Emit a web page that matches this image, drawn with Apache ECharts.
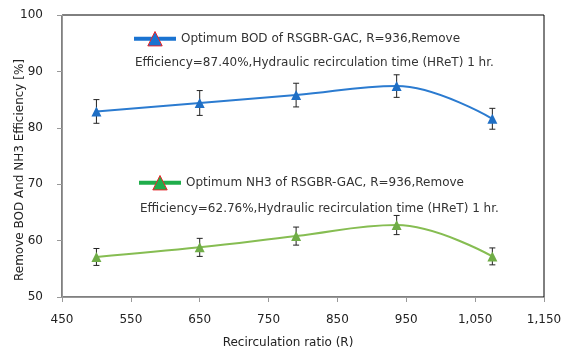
<!DOCTYPE html>
<html>
<head>
<meta charset="utf-8">
<script src="https://cdn.jsdelivr.net/npm/echarts@6/dist/echarts.min.js"></script>
<style>
  html, body { margin: 0; padding: 0; background: #fff; }
  #chart { width: 568px; height: 354px; }
</style>
</head>
<body>
<div id="chart"></div>
<script>
// recirculation ratio (R) on the x axis
const ratios = [500, 650, 790, 936, 1075]
const bodValues = [82.9, 84.4, 85.8, 87.4, 81.6]
const bodErrors = [2.1, 2.2, 2.1, 2.0, 1.85]
const nh3Values = [57.1, 58.8, 60.8, 62.76, 57.2]
const nh3Errors = [1.5, 1.6, 1.6, 1.7, 1.5]
const xTicks = [450, 550, 650, 750, 850, 950, 1050, 1150]
const yTicks = [50, 60, 70, 80, 90, 100]

const bodName = 'Optimum BOD of RSGBR-GAC, R=936,Remove'
const nh3Name = 'Optimum NH3 of RSGBR-GAC, R=936,Remove'

const font = 'DejaVu Sans'
const chart = echarts.init(document.getElementById('chart'))

const pairs = (vals) => ratios.map((r, i) => [r, vals[i]])
const bars = (vals, errs) => ratios.map((r, i) => [r, vals[i] - errs[i], vals[i] + errs[i]])

const errorBar = (params, api) => {
  const x = api.value(0)
  const top = api.coord([x, api.value(2)])
  const bot = api.coord([x, api.value(1)])
  const w = 3
  const st = { stroke: '#222', lineWidth: 1 }
  return {
    type: 'group',
    children: [
      { type: 'line', shape: { x1: top[0], y1: top[1], x2: bot[0], y2: bot[1] }, style: st },
      { type: 'line', shape: { x1: top[0] - w, y1: top[1], x2: top[0] + w, y2: top[1] }, style: st },
      { type: 'line', shape: { x1: bot[0] - w, y1: bot[1], x2: bot[0] + w, y2: bot[1] }, style: st }
    ]
  }
}

const legendItem = (name, left, top, color) => ({
  data: [name],
  left: left, top: top,
  itemWidth: 42, itemHeight: 18, itemGap: 4,
  textStyle: { fontFamily: font, fontSize: 12, color: '#333' },
  lineStyle: { color: color, width: 4 },
  itemStyle: { color: color, borderColor: '#e8262b', borderWidth: 1 }
})

const option = {
  backgroundColor: '#fff',
  animation: false,
  textStyle: { fontFamily: font },
  grid: {
    left: 62, right: 24, top: 15, bottom: 57,
    outerBoundsMode: 'none',
    show: true, borderColor: '#000', borderWidth: 1
  },
  legend: [
    legendItem(bodName, 127, 26, '#1a73d1'),
    legendItem(nh3Name, 132, 170, '#1fad4b')
  ],
  graphic: [
    {
      type: 'text', left: 135, top: 57,
      style: { text: 'Efficiency=87.40%,Hydraulic recirculation time (HReT) 1 hr.', font: '12px "DejaVu Sans"', fill: '#333' }
    },
    {
      type: 'text', left: 140, top: 203,
      style: { text: 'Efficiency=62.76%,Hydraulic recirculation time (HReT) 1 hr.', font: '12px "DejaVu Sans"', fill: '#333' }
    }
  ],
  xAxis: {
    type: 'value',
    min: xTicks[0], max: xTicks[xTicks.length - 1], interval: xTicks[1] - xTicks[0],
    name: 'Recirculation ratio (R)',
    nameLocation: 'middle', nameGap: 40,
    nameTextStyle: { fontFamily: font, fontSize: 12, color: '#222', padding: [0, 30, 0, 0] },
    axisLine: { lineStyle: { color: '#999' } },
    axisTick: { show: true, length: 5, lineStyle: { color: '#999' } },
    axisLabel: {
      margin: 17, fontSize: 12, color: '#222',
      formatter: (v) => v.toLocaleString('en-US')
    },
    splitLine: { show: false }
  },
  yAxis: {
    type: 'value',
    min: yTicks[0], max: yTicks[yTicks.length - 1], interval: yTicks[1] - yTicks[0],
    name: 'Remove BOD And NH3 Efficiency [%]',
    nameLocation: 'middle', nameGap: 36, nameRotate: 90, nameMoveOverlap: false,
    nameTextStyle: { fontFamily: font, fontSize: 12, color: '#222', padding: [0, 28, 0, 0] },
    axisLine: { show: true, lineStyle: { color: '#999' } },
    axisTick: { show: true, length: 5, lineStyle: { color: '#999' } },
    axisLabel: { margin: 19, fontSize: 12, color: '#222' },
    splitLine: { show: false }
  },
  series: [
    {
      type: 'custom', name: 'bodErr', z: 1,
      renderItem: errorBar, data: bars(bodValues, bodErrors)
    },
    {
      type: 'custom', name: 'nh3Err', z: 1,
      renderItem: errorBar, data: bars(nh3Values, nh3Errors)
    },
    {
      name: bodName, type: 'line', smooth: 0.4, z: 3,
      data: pairs(bodValues),
      symbol: 'triangle', symbolSize: 10,
      lineStyle: { color: '#2b7bd0', width: 2 },
      itemStyle: { color: '#1f6fc5' }
    },
    {
      name: nh3Name, type: 'line', smooth: 0.4, z: 3,
      data: pairs(nh3Values),
      symbol: 'triangle', symbolSize: 10,
      lineStyle: { color: '#86bd52', width: 2 },
      itemStyle: { color: '#70ad47' }
    }
  ]
}

chart.setOption(option)
</script>
</body>
</html>
